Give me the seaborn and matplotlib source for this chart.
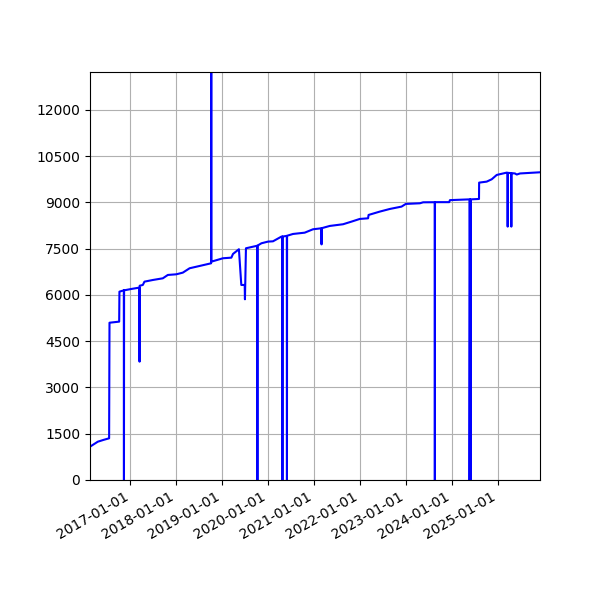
import matplotlib
matplotlib.use("Agg")
import matplotlib.pyplot as plt
import matplotlib.dates as mdates
import pandas as pd
import seaborn as sns

# readings
dates = [
    "2016-02-14", "2016-04-16", "2016-05-31", "2016-07-15", "2016-07-18",
    "2016-10-03", "2016-10-05", "2016-11-09", "2016-11-10", "2016-11-11",
    "2017-01-07", "2017-02-28", "2017-03-13", "2017-03-14", "2017-03-15",
    "2017-04-09", "2017-04-22", "2017-06-28", "2017-09-15", "2017-10-25",
    "2017-12-31", "2018-02-21", "2018-04-16", "2018-07-04", "2018-10-04",
    "2018-10-05", "2018-10-06", "2019-01-06", "2019-03-14", "2019-03-27",
    "2019-05-13", "2019-06-01", "2019-06-28", "2019-06-30", "2019-07-08",
    "2019-09-29", "2019-10-06", "2019-10-07", "2019-10-08", "2019-11-08",
    "2019-12-30", "2020-02-08", "2020-04-15", "2020-04-22", "2020-04-23",
    "2020-04-24", "2020-05-28", "2020-05-29", "2020-05-30", "2020-07-16",
    "2020-10-17", "2020-12-22", "2021-02-27", "2021-02-28", "2021-03-01",
    "2021-05-04", "2021-08-18", "2021-10-24", "2021-12-29", "2022-03-05",
    "2022-03-09", "2022-06-06", "2022-08-25", "2022-11-26", "2022-12-30",
    "2023-04-21", "2023-05-17", "2023-08-17", "2023-08-18", "2023-08-19",
    "2023-12-10", "2023-12-16", "2024-05-19", "2024-05-20", "2024-05-25",
    "2024-05-30", "2024-05-31", "2024-08-03", "2024-08-04", "2024-10-03",
    "2024-11-12", "2024-12-22", "2025-03-11", "2025-03-18", "2025-03-19",
    "2025-03-20", "2025-04-16", "2025-04-17", "2025-04-18", "2025-05-16",
    "2025-05-30", "2025-06-25", "2025-12-01",
]
values = [
    1080, 1242, 1300, 1352, 5100,
    5135, 6107, 6150, 0, 6150,
    6194, 6230, 6235, 3837, 6300,
    6324, 6432, 6486, 6540, 6649,
    6670, 6724, 6866, 6940, 7027,
    14500, 7080, 7190, 7210, 7330,
    7483, 6324, 6324, 5860, 7514,
    7590, 7595, 0, 7600, 7676,
    7730, 7740, 7892, 7893, 0,
    7895, 7915, 0, 7920, 7978,
    8020, 8130, 8162, 7640, 8165,
    8238, 8293, 8378, 8465, 8486,
    8595, 8703, 8789, 8865, 8952,
    8973, 9005, 9008, 0, 9010,
    9010, 9075, 9100, 0, 9100,
    0, 9100, 9113, 9643, 9675,
    9751, 9892, 9967, 9960, 8216,
    9960, 9950, 8216, 9950, 9940,
    9905, 9940, 9978,
]
yticks = list(range(0, 13500, 1500))

df = pd.DataFrame({"date": pd.to_datetime(dates), "value": values})

fig, ax = plt.subplots(figsize=(6, 6), dpi=100)
sns.lineplot(data=df, x="date", y="value", color="blue", linewidth=1.5,
             estimator=None, sort=False, ax=ax)

ax.set_xlim(df["date"].min(), df["date"].max())
ax.set_ylim(0, 13230)
ax.set_yticks(yticks)
ax.xaxis.set_major_locator(mdates.YearLocator())
ax.xaxis.set_major_formatter(mdates.DateFormatter("%Y-%m-%d"))
ax.set_xlabel("")
ax.set_ylabel("")
ax.grid(True)

fig.autofmt_xdate()
fig.subplots_adjust(left=0.15, right=0.9, top=0.88, bottom=0.2)
fig.savefig("out.png")
